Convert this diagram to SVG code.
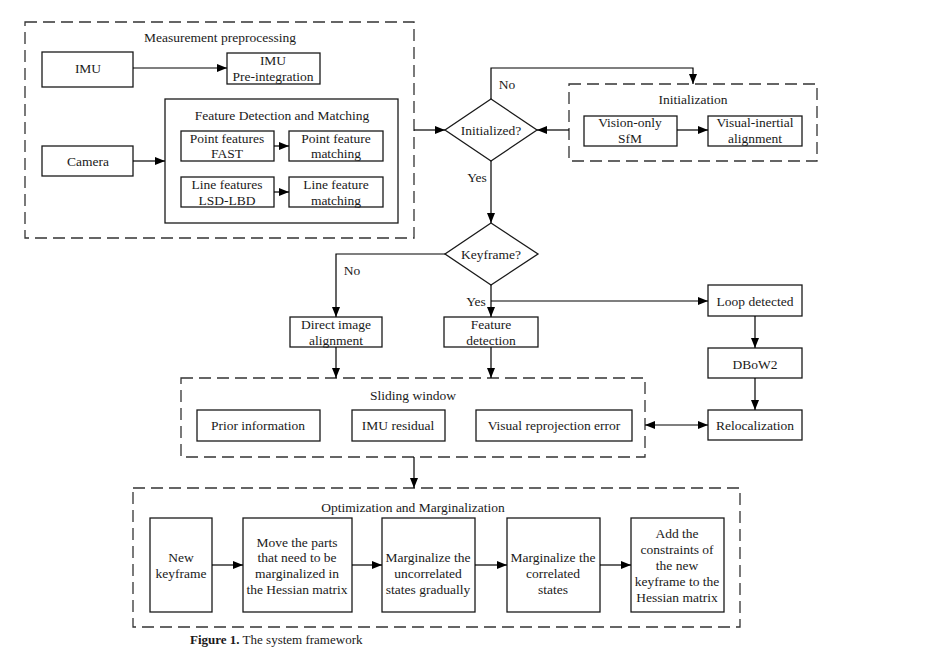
<svg xmlns="http://www.w3.org/2000/svg" width="930" height="648" viewBox="0 0 930 648">
<style>
text{font-family:"Liberation Serif","Times New Roman",serif;font-size:13.5px;fill:#1a1a1a;text-anchor:middle}
.b{fill:#fff;stroke:#1a1a1a;stroke-width:1.3}
.d{fill:none;stroke:#333;stroke-width:1.3;stroke-dasharray:12 6}
.c{fill:none;stroke:#000;stroke-width:1.2}
.cap{font-size:13px;text-anchor:start}
</style>
<defs>
<marker id="a" viewBox="0 0 10 8" refX="10" refY="4" markerWidth="10" markerHeight="8" markerUnits="userSpaceOnUse" orient="auto-start-reverse">
<path d="M0,0L10,4L0,8Z" fill="#000"/>
</marker>
</defs>

<g id="measurement">
<rect class="d" x="25" y="22" width="389" height="216"/>
<text x="220" y="42">Measurement preprocessing</text>
</g>
<g id="imu"><rect class="b" x="42" y="52" width="91" height="35"/><text x="88" y="73">IMU</text></g>
<g id="preint"><rect class="b" x="227" y="53" width="93" height="31"/><text x="273" y="65">IMU</text><text x="273" y="81">Pre-integration</text></g>
<g id="camera"><rect class="b" x="42" y="146" width="91" height="30"/><text x="88" y="166">Camera</text></g>
<g id="fdm"><rect class="b" x="165" y="99" width="233" height="124"/><text x="282" y="120">Feature Detection and Matching</text></g>
<g id="pf"><rect class="b" x="181" y="131" width="93" height="30"/><text x="227" y="143">Point features</text><text x="227" y="158">FAST</text></g>
<g id="pfm"><rect class="b" x="289" y="131" width="94" height="30"/><text x="336" y="143">Point feature</text><text x="336" y="158">matching</text></g>
<g id="lf"><rect class="b" x="181" y="177" width="93" height="30"/><text x="227" y="189">Line features</text><text x="227" y="205">LSD-LBD</text></g>
<g id="lfm"><rect class="b" x="289" y="177" width="94" height="30"/><text x="336" y="189">Line feature</text><text x="336" y="205">matching</text></g>

<g id="initialized"><polygon class="b" points="491,99 537,130 491,161 445,130"/><text x="491" y="135">Initialized?</text></g>
<g id="initialization"><rect class="d" x="569" y="84" width="248" height="77"/><text x="693" y="104">Initialization</text></g>
<g id="sfm"><rect class="b" x="584" y="116" width="93" height="30"/><text x="630" y="127">Vision-only</text><text x="630" y="143">SfM</text></g>
<g id="via"><rect class="b" x="708" y="116" width="94" height="30"/><text x="755" y="127">Visual-inertial</text><text x="755" y="143">alignment</text></g>

<g id="keyframe"><polygon class="b" points="491,223 538,254 491,285 445,254"/><text x="491" y="259">Keyframe?</text></g>
<g id="dia"><rect class="b" x="290" y="317" width="92" height="30"/><text x="336" y="329">Direct image</text><text x="336" y="345">alignment</text></g>
<g id="fd"><rect class="b" x="444" y="317" width="94" height="30"/><text x="491" y="329">Feature</text><text x="491" y="345">detection</text></g>
<g id="loop"><rect class="b" x="708" y="285" width="94" height="31"/><text x="755" y="306">Loop detected</text></g>
<g id="dbow"><rect class="b" x="708" y="348" width="94" height="30"/><text x="755" y="369">DBoW2</text></g>
<g id="reloc"><rect class="b" x="708" y="410" width="94" height="30"/><text x="755" y="430">Relocalization</text></g>

<g id="sliding">
<rect class="d" x="181" y="378" width="464" height="79"/>
<text x="413" y="400">Sliding window</text>
</g>
<g id="prior"><rect class="b" x="197" y="410" width="123" height="31"/><text x="258" y="430">Prior information</text></g>
<g id="imures"><rect class="b" x="352" y="410" width="93" height="31"/><text x="398" y="430">IMU residual</text></g>
<g id="vre"><rect class="b" x="476" y="410" width="156" height="31"/><text x="554" y="430">Visual reprojection error</text></g>

<g id="optimization">
<rect class="d" x="133" y="488" width="607" height="139"/>
<text x="413" y="512">Optimization and Marginalization</text>
</g>
<g id="newkf"><rect class="b" x="150" y="518" width="62" height="94"/><text x="181" y="562">New</text><text x="181" y="578">keyframe</text></g>
<g id="move"><rect class="b" x="243" y="518" width="109" height="94"/><text x="297" y="547">Move the parts</text><text x="297" y="562">that need to be</text><text x="297" y="578">marginalized in</text><text x="297" y="594">the Hessian matrix</text></g>
<g id="unc"><rect class="b" x="382" y="518" width="93" height="94"/><text x="428" y="562">Marginalize the</text><text x="428" y="578">uncorrelated</text><text x="428" y="594">states gradually</text></g>
<g id="cor"><rect class="b" x="507" y="518" width="93" height="94"/><text x="553" y="562">Marginalize the</text><text x="553" y="578">correlated</text><text x="553" y="594">states</text></g>
<g id="add"><rect class="b" x="631" y="518" width="93" height="94"/><text x="677" y="538">Add the</text><text x="677" y="554">constraints of</text><text x="677" y="570">the new</text><text x="677" y="586">keyframe to the</text><text x="677" y="602">Hessian matrix</text></g>

<g id="connectors">
<path class="c" marker-end="url(#a)" d="M133,68H227"/>
<path class="c" marker-end="url(#a)" d="M133,161H165"/>
<path class="c" marker-end="url(#a)" d="M274,146H289"/>
<path class="c" marker-end="url(#a)" d="M274,192H289"/>
<path class="c" marker-end="url(#a)" d="M414,130H445"/>
<path class="c" marker-end="url(#a)" d="M569,130H537"/>
<path class="c" marker-end="url(#a)" d="M677,130H708"/>
<path class="c" marker-end="url(#a)" d="M491,99V68H693V84"/>
<path class="c" marker-end="url(#a)" d="M491,161V223"/>
<path class="c" marker-end="url(#a)" d="M445,254H336V317"/>
<path class="c" marker-end="url(#a)" d="M491,285V317"/>
<path class="c" marker-end="url(#a)" d="M491,301H708"/>
<path class="c" marker-end="url(#a)" d="M755,316V348"/>
<path class="c" marker-end="url(#a)" d="M755,378V410"/>
<path class="c" marker-start="url(#a)" marker-end="url(#a)" d="M645,425H708"/>
<path class="c" marker-end="url(#a)" d="M336,347V378"/>
<path class="c" marker-end="url(#a)" d="M491,347V378"/>
<path class="c" marker-end="url(#a)" d="M414,457V488"/>
<path class="c" marker-end="url(#a)" d="M212,565H243"/>
<path class="c" marker-end="url(#a)" d="M352,565H382"/>
<path class="c" marker-end="url(#a)" d="M475,565H507"/>
<path class="c" marker-end="url(#a)" d="M600,565H631"/>
<text x="507" y="89">No</text>
<text x="477" y="182">Yes</text>
<text x="352" y="275">No</text>
<text x="476" y="306">Yes</text>
</g>

<text class="cap" x="190" y="644"><tspan font-weight="bold">Figure 1.</tspan> The system framework</text>
</svg>
